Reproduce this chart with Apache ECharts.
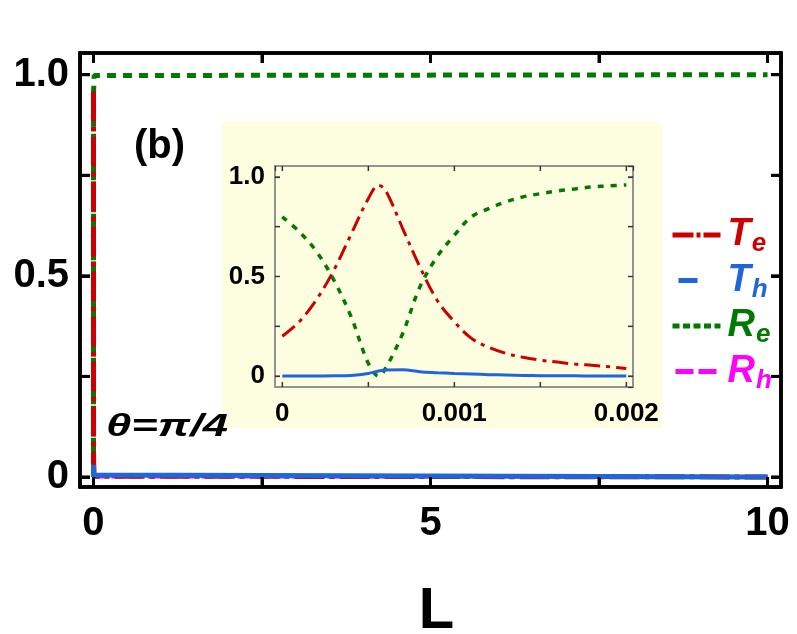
<!DOCTYPE html>
<html>
<head>
<meta charset="utf-8">
<script src="https://cdn.jsdelivr.net/npm/echarts@6/dist/echarts.min.js"></script>
<style>
html,body{margin:0;padding:0;background:#fff;}
#chart{width:797px;height:634px;}
</style>
</head>
<body>
<div id="chart"></div>
<script>
// ---- data ----
const lengths = [0, 0.0001, 0.0002, 0.0003, 0.0004, 0.0005, 0.00056, 0.0006, 0.0007, 0.0008, 0.0009, 0.001,
  0.0011, 0.0012, 0.0013, 0.0014, 0.0015, 0.0016, 0.0017, 0.0018, 0.0019, 0.002];
const transE = [0.200, 0.274, 0.385, 0.532, 0.712, 0.891, 0.958, 0.933, 0.741, 0.548, 0.381, 0.273,
  0.189, 0.144, 0.114, 0.094, 0.080, 0.070, 0.060, 0.054, 0.047, 0.038];
const transH = [0, 0, 0, 0.001, 0.003, 0.013, 0.025, 0.030, 0.032, 0.022, 0.017, 0.013,
  0.010, 0.007, 0.005, 0.003, 0.002, 0.001, 0.001, 0, 0, 0];
const reflE = [0.800, 0.724, 0.624, 0.482, 0.298, 0.064, 0.000, 0.038, 0.214, 0.448, 0.599, 0.707,
  0.800, 0.841, 0.875, 0.900, 0.916, 0.930, 0.940, 0.950, 0.955, 0.960];
const reflH = [0, 0, 0, 0, 0, 0, 0, 0, 0, 0, 0, 0, 0, 0, 0, 0, 0, 0, 0, 0, 0, 0];

// long-L behaviour seen in the main panel
const tailLengths = [0.01, 10];
const tailTransE = [0.002, 0];
const tailTransH = [0, 0];
const tailReflE = [0.998, 1];
const tailReflH = [0, 0];

// ticks and tick labels
const mainXTicks = [0, 2.5, 5, 7.5, 10];
const mainYTicks = [0, 0.25, 0.5, 0.75, 1];
const insetXTicks = [0, 0.0005, 0.001, 0.0015, 0.002];
const insetYTicks = [0, 0.25, 0.5, 0.75, 1];
const mainXTickValues = [0, 5, 10];
const mainXTickLabels = ['0', '5', '10'];
const mainYTickValues = [0, 0.5, 1];
const mainYTickLabels = ['0', '0.5', '1.0'];
const insetXTickValues = [0, 0.001, 0.002];
const insetXTickLabels = ['0', '0.001', '0.002'];
const insetYTickValues = [0, 0.5, 1];
const insetYTickLabels = ['0', '0.5', '1.0'];

// ---- styling ----
const FONT = '"Liberation Sans", Arial, Helvetica, sans-serif';
const RED = '#cc0000', BLUE = '#1f66dd', GREEN = '#007a00', MAGENTA = '#ff00ff';

function pairs(xs, ys) { return xs.map((x, i) => [x, ys[i]]); }
function labeler(values, labels) {
  return function (v) {
    for (let i = 0; i < values.length; i++) {
      if (Math.abs(v - values[i]) < 1e-9) return labels[i];
    }
    return '';
  };
}
function richFor(c) {
  return {
    T: { fontSize: 38, fontWeight: 'bold', fontStyle: 'italic', color: c, fontFamily: FONT, lineHeight: 46, padding: [0, 0, 0, 2] },
    s: { fontSize: 26, fontWeight: 'bold', fontStyle: 'italic', color: c, fontFamily: FONT, lineHeight: 26, padding: [18, 0, 0, 1] }
  };
}

const mainL = lengths.concat(tailLengths);
const mainTe = transE.concat(tailTransE);
const mainTh = transH.concat(tailTransH);
const mainRe = reflE.concat(tailReflE);
const mainRh = reflH.concat(tailReflH);
// in the main panel the rising part of Te is hidden inside the vertical stroke; draw from the peak on
const peakIdx = transE.indexOf(Math.max.apply(null, transE));

function valueAxis(gridIndex, pos, min, max, step, fmt, opts) {
  return {
    type: 'value', gridIndex: gridIndex, position: pos, min: min, max: max,
    minInterval: step, maxInterval: step, splitNumber: 4,
    axisLine: { show: true, onZero: false, lineStyle: { color: opts.lineColor, width: opts.lineWidth } },
    splitLine: { show: false },
    axisTick: { show: true, inside: true, length: opts.tickLen, lineStyle: { color: opts.tickColor, width: opts.tickWidth } },
    axisLabel: fmt ? { show: true, formatter: fmt, fontSize: opts.fontSize, fontWeight: 'bold', color: '#000', fontFamily: FONT, margin: opts.margin, showMinLabel: false, showMaxLabel: false }
                   : { show: false },
    z: opts.z
  };
}

const mainOpts = { lineColor: '#000', lineWidth: 3.5, tickLen: 10, tickColor: '#000', tickWidth: 3, fontSize: 40, margin: 17, z: 1 };
const mainOptsY = Object.assign({}, mainOpts, { margin: 11 });
const insetOpts = { lineColor: '#8c8c8c', lineWidth: 1.5, tickLen: 5, tickColor: '#333', tickWidth: 1.2, fontSize: 26, margin: 14, z: 3 };
const insetOptsY = Object.assign({}, insetOpts, { margin: 10 });

const xMain = valueAxis(0, 'bottom', -0.2, 10.2, 2.5, labeler(mainXTickValues, mainXTickLabels), mainOpts);
xMain.name = 'L';
xMain.nameLocation = 'middle';
xMain.nameGap = 96;
xMain.nameTextStyle = { fontSize: 58, fontWeight: 'bold', color: '#000', fontFamily: FONT, padding: [0, 0, 0, 12] };

// tick marks on all four sides, placed through the axes' own scales
function tickSeries(xIdx, yIdx, values, isX, len, color, width, z) {
  return {
    type: 'custom', xAxisIndex: xIdx, yAxisIndex: yIdx, silent: true, clip: false, z: z,
    data: values.map(v => isX ? [v, 0] : [0, v]),
    renderItem: function (params, api) {
      const cs = params.coordSys;
      const st = { stroke: color, lineWidth: width };
      if (isX) {
        const px = api.coord([api.value(0), 0])[0];
        return { type: 'group', children: [
          { type: 'line', shape: { x1: px, y1: cs.y + cs.height, x2: px, y2: cs.y + cs.height - len }, style: st },
          { type: 'line', shape: { x1: px, y1: cs.y, x2: px, y2: cs.y + len }, style: st }
        ] };
      }
      const py = api.coord([0, api.value(1)])[1];
      return { type: 'group', children: [
        { type: 'line', shape: { x1: cs.x, y1: py, x2: cs.x + len, y2: py }, style: st },
        { type: 'line', shape: { x1: cs.x + cs.width, y1: py, x2: cs.x + cs.width - len, y2: py }, style: st }
      ] };
    }
  };
}

const legendLineStyles = {
  Te: { color: RED, width: 5, type: [21, 3, 4, 3] },
  Th: { color: BLUE, width: 5, type: [0, 6, 19, 100] },
  Re: { color: GREEN, width: 5, type: [7, 3.5] },
  Rh: { color: MAGENTA, width: 5, type: [0, 3, 18, 5, 18, 100] }
};
const legendColors = { Te: RED, Th: BLUE, Re: GREEN, Rh: MAGENTA };
const legendOrder = ['Te', 'Th', 'Re', 'Rh'];

const option = {
  animation: false,
  backgroundColor: '#ffffff',
  grid: [
    { left: 80, top: 53, width: 701, height: 434, show: true, borderColor: '#000', borderWidth: 3.5, backgroundColor: 'transparent', z: 0, outerBoundsMode: 'none', containLabel: false },
    { left: 275, top: 166, width: 358, height: 221, show: true, borderColor: '#8c8c8c', borderWidth: 1.5, backgroundColor: 'transparent', z: 2, outerBoundsMode: 'none', containLabel: false }
  ],
  xAxis: [
    xMain,
    valueAxis(0, 'top', -0.2, 10.2, 2.5, null, mainOpts),
    valueAxis(1, 'bottom', -0.0000424, 0.002039, 0.0005, labeler(insetXTickValues, insetXTickLabels), insetOpts),
    valueAxis(1, 'top', -0.0000424, 0.002039, 0.0005, null, insetOpts)
  ],
  yAxis: [
    valueAxis(0, 'left', -0.025, 1.054, 0.25, labeler(mainYTickValues, mainYTickLabels), mainOptsY),
    valueAxis(0, 'right', -0.025, 1.054, 0.25, null, mainOpts),
    valueAxis(1, 'left', -0.055, 1.055, 0.25, labeler(insetYTickValues, insetYTickLabels), insetOptsY),
    valueAxis(1, 'right', -0.055, 1.055, 0.25, null, insetOpts)
  ],
  legend: {
    orient: 'vertical', left: 665, top: 208,
    itemWidth: 48, itemHeight: 14, itemGap: 1.5,
    selectedMode: false,
    formatter: function (name) { return '{T|' + name.charAt(0) + '}{s|' + name.charAt(1) + '}'; },
    data: legendOrder.map(n => ({
      name: n,
      lineStyle: legendLineStyles[n],
      itemStyle: { opacity: 0, borderWidth: 0 },
      textStyle: { rich: richFor(legendColors[n]) }
    }))
  },
  graphic: [
    { type: 'rect', shape: { x: 222, y: 122, width: 440, height: 306 }, style: { fill: '#fdfde0' }, z: 1, silent: true },
    { type: 'text', left: 134, top: 127, z: 10, style: { text: '(b)', font: 'bold 40px ' + FONT, fill: '#000' } },
    { type: 'text', x: 106, y: 411, scaleX: 1.42, z: 10, style: { text: 'θ=π/4', font: 'italic bold 32px ' + FONT, fill: '#000', verticalAlign: 'top', align: 'left' } }
  ],
  series: [
    // main panel
    { name: 'Rh', type: 'line', xAxisIndex: 0, yAxisIndex: 0, data: pairs(mainL, mainRh), symbol: 'none', color: MAGENTA,
      lineStyle: { color: MAGENTA, width: 3, type: [12, 6] }, z: 3 },
    { name: 'Re', type: 'line', xAxisIndex: 0, yAxisIndex: 0, data: pairs(mainL, mainRe), symbol: 'none', color: GREEN,
      lineStyle: { color: GREEN, width: 5, type: [9, 7] }, z: 4 },
    { name: 'Te', type: 'line', xAxisIndex: 0, yAxisIndex: 0, data: pairs(mainL.slice(peakIdx), mainTe.slice(peakIdx)), symbol: 'none', color: RED,
      lineStyle: { color: RED, width: 5, type: [30, 5, 5, 5] }, z: 5 },
    { name: 'Th', type: 'line', xAxisIndex: 0, yAxisIndex: 0, data: pairs(mainL, mainTh), symbol: 'none', color: BLUE,
      lineStyle: { color: BLUE, width: 5 }, z: 6 },
    tickSeries(0, 0, mainXTicks, true, 10, '#000', 3, 7),
    tickSeries(0, 0, mainYTicks, false, 10, '#000', 3, 7),
    // inset
    { name: 'Re', type: 'line', xAxisIndex: 2, yAxisIndex: 2, data: pairs(lengths, reflE), symbol: 'none', color: GREEN, smooth: 0.35,
      lineStyle: { color: GREEN, width: 3.5, type: [6, 7] }, z: 8 },
    { name: 'Te', type: 'line', xAxisIndex: 2, yAxisIndex: 2, data: pairs(lengths, transE), symbol: 'none', color: RED, smooth: 0.35,
      lineStyle: { color: RED, width: 3, type: [16, 6, 4, 6] }, z: 9 },
    { name: 'Th', type: 'line', xAxisIndex: 2, yAxisIndex: 2, data: pairs(lengths, transH), symbol: 'none', color: BLUE, smooth: 0.35,
      lineStyle: { color: BLUE, width: 3 }, z: 10 },
    tickSeries(2, 2, insetXTicks, true, 5, '#333', 1.2, 11),
    tickSeries(2, 2, insetYTicks, false, 5, '#333', 1.2, 11)
  ]
};

const chart = echarts.init(document.getElementById('chart'), null, { renderer: 'canvas' });
chart.setOption(option);
</script>
</body>
</html>
